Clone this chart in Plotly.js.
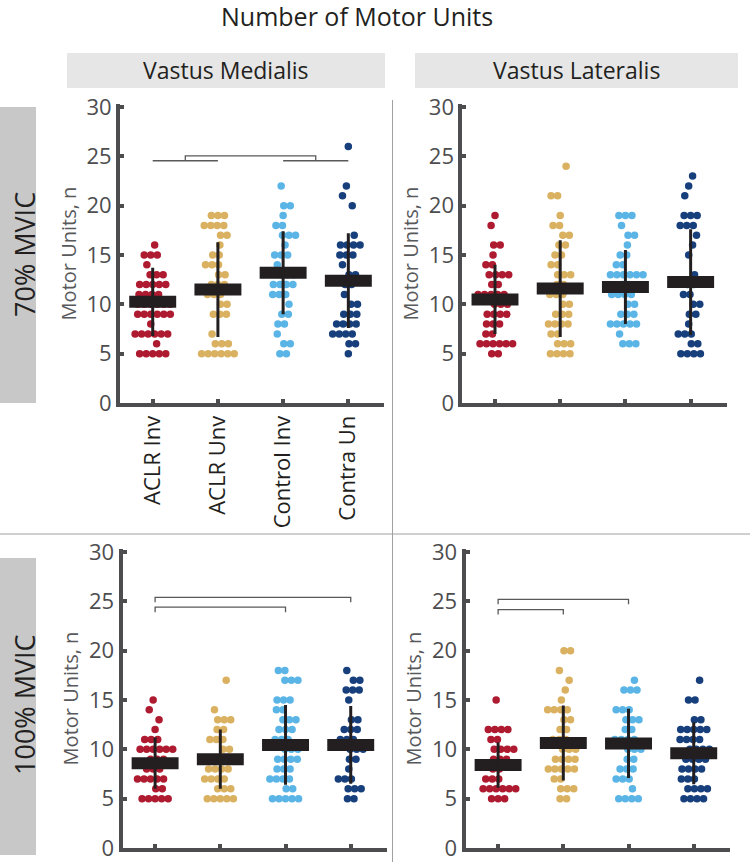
<!DOCTYPE html>
<html><head><meta charset="utf-8">
<script src="https://cdn.plot.ly/plotly-3.0.1.min.js"></script>
<style>html,body{margin:0;padding:0;background:#fff}#chart{width:750px;height:865px}</style>
</head><body><div id="chart"></div>
<script>
// ---------- DATA ----------
const groups = ['ACLR Inv', 'ACLR Unv', 'Control Inv', 'Contra Un'];

// Vastus Medialis, 70% MVIC
const vm70_aclrInv    = [16,15,15,15,14,13,13,13,12,12,12,12,12,11,11,11,11,10,10,10,10,10,10,9,9,9,9,9,9,8,7,7,7,7,7,7,6,5,5,5,5,5];
const vm70_aclrUnv    = [19,19,19,18,18,18,18,17,17,16,15,15,14,14,14,13,13,12,12,12,11,11,11,10,10,9,9,9,7,6,6,6,5,5,5,5,5,5];
const vm70_controlInv = [22,20,20,19,18,18,17,17,17,16,15,15,15,14,13,13,13,12,12,12,12,11,11,11,10,9,9,8,8,7,6,6,5,5];
const vm70_contraUn   = [26,22,21,20,17,16,16,16,16,15,15,15,14,13,13,12,12,11,10,10,9,9,9,8,8,8,8,7,7,7,7,6,6,5];
const vm70_mean = [10.25, 11.5, 13.2, 12.4];
const vm70_sd   = [3.45, 4.8, 4.2, 4.8];

// Vastus Lateralis, 70% MVIC
const vl70_aclrInv    = [19,18,16,16,15,14,14,13,13,13,13,12,12,11,11,11,11,11,10,10,10,9,9,9,9,8,8,8,7,7,6,6,6,6,6,6,5,5];
const vl70_aclrUnv    = [24,21,21,19,18,18,17,17,16,16,15,15,14,14,13,13,13,12,12,11,11,11,10,10,9,9,9,8,8,8,8,7,7,6,6,6,5,5,5,5];
const vl70_controlInv = [19,19,19,18,17,17,16,15,15,14,14,13,13,13,13,13,13,12,12,11,11,11,11,10,10,9,9,9,8,8,8,8,8,7,6,6,6];
const vl70_contraUn   = [23,22,21,19,19,19,18,18,18,17,16,15,13,12,12,11,11,10,10,9,9,8,7,7,7,6,6,5,5,5,5];
const vl70_mean = [10.5, 11.6, 11.75, 12.25];
const vl70_sd   = [3.5, 4.9, 3.75, 5.35];

// Vastus Medialis, 100% MVIC
const vm100_aclrInv    = [15,14,13,12,11,11,11,10,10,10,10,10,10,9,9,9,8,8,8,7,7,7,7,7,6,6,5,5,5,5,5];
const vm100_aclrUnv    = [17,14,13,13,13,12,12,11,11,11,10,10,9,9,9,8,8,8,8,7,7,7,7,6,6,6,5,5,5,5,5];
const vm100_controlInv = [18,18,17,17,17,15,15,15,14,14,13,13,13,12,12,12,11,11,11,10,10,10,9,9,9,9,8,8,8,7,7,7,7,6,6,5,5,5,5,5];
const vm100_contraUn   = [18,17,17,16,16,16,15,13,13,12,12,12,11,11,11,10,10,10,9,9,8,7,7,7,6,6,6,5,5];
const vm100_mean = [8.6, 9.0, 10.45, 10.45];
const vm100_sd   = [2.6, 3.0, 4.05, 3.95];

// Vastus Lateralis, 100% MVIC
const vl100_aclrInv    = [15,12,12,12,12,11,11,10,10,10,10,9,9,9,8,8,7,7,7,6,6,6,6,6,6,5,5,5];
const vl100_aclrUnv    = [20,20,18,17,16,15,14,14,14,14,13,13,12,12,11,11,11,10,10,10,9,9,9,9,8,8,8,8,8,7,7,6,6,6,5,5];
const vl100_controlInv = [17,16,16,16,14,14,14,13,13,13,12,12,11,11,11,11,10,10,10,9,9,8,8,8,7,7,7,6,5,5,5,5];
const vl100_contraUn   = [17,15,15,13,13,12,12,12,12,12,11,11,11,11,10,10,10,10,9,9,9,9,8,8,8,8,7,7,7,6,6,6,6,5,5,5,5];
const vl100_mean = [8.4, 10.65, 10.6, 9.6];
const vl100_sd   = [2.3, 3.8, 3.5, 3.15];

// significance brackets: [from group, to group, height]
const vm70_pairs   = [[1, 2, 24.55], [3, 4, 24.55]];
const vm70_groupBr = [[1.5, 3.5, 25.05]];
const vm100_brackets = [[1, 4, 25.4], [1, 3, 24.4]];
const vl100_brackets = [[1, 3, 25.2], [1, 2, 24.15]];

// ---------- STYLE ----------
const dotColors = ['#ae1a2f', '#d9b160', '#5ab5e6', '#173f7c'];
const W = 750, H = 865;
const axisCol = '#4d4d4f';
const FONT = 'Open Sans, sans-serif';

function swarm(vals, center) {
  const counts = {}; vals.forEach(v => counts[v] = (counts[v] || 0) + 1);
  const idx = {}; const xs = [];
  const step = 0.1;
  vals.forEach(v => {
    const n = counts[v];
    idx[v] = idx[v] === undefined ? 0 : idx[v] + 1;
    const half = (n - 1) / 2 * step;
    const lim = Math.max(0, 0.27 - half);
    let shift = (((v * 37) % 7) - 3) * 0.03;
    shift = Math.max(-lim, Math.min(lim, shift));
    xs.push(center + (idx[v] - (n - 1) / 2) * step + shift);
  });
  return xs;
}

const panels = [
  {n: '',  series: [vm70_aclrInv, vm70_aclrUnv, vm70_controlInv, vm70_contraUn], mean: vm70_mean, sd: vm70_sd,
   px: [120.1, 384.2], py: [104, 403], labels: true},
  {n: '2', series: [vl70_aclrInv, vl70_aclrUnv, vl70_controlInv, vl70_contraUn], mean: vl70_mean, sd: vl70_sd,
   px: [462.4, 726.5], py: [104, 403], labels: false},
  {n: '3', series: [vm100_aclrInv, vm100_aclrUnv, vm100_controlInv, vm100_contraUn], mean: vm100_mean, sd: vm100_sd,
   px: [122.5, 386.6], py: [549, 848], labels: false},
  {n: '4', series: [vl100_aclrInv, vl100_aclrUnv, vl100_controlInv, vl100_contraUn], mean: vl100_mean, sd: vl100_sd,
   px: [465.5, 729.6], py: [549, 848], labels: false}
];

const traces = [];
const layout = {
  width: W, height: H, margin: {l: 0, r: 0, t: 0, b: 0},
  paper_bgcolor: '#fff', plot_bgcolor: 'rgba(0,0,0,0)',
  showlegend: false, font: {family: FONT, color: '#231f20'},
  shapes: [], annotations: []
};

panels.forEach(p => {
  const xa = 'x' + p.n, ya = 'y' + p.n;
  p.series.forEach((vals, g) => {
    traces.push({type: 'scatter', mode: 'markers', x: swarm(vals, g + 1), y: vals,
      xaxis: xa, yaxis: ya, marker: {size: 7.5, color: dotColors[g]}, hoverinfo: 'y', cliponaxis: false});
  });
  // mean bars
  const mx = [], my = [];
  p.mean.forEach((m, g) => { mx.push(g + 1 - 0.36, g + 1 + 0.36, null); my.push(m, m, null); });
  traces.push({type: 'scatter', mode: 'lines', x: mx, y: my, xaxis: xa, yaxis: ya,
    line: {color: '#231f20', width: 12}, hoverinfo: 'skip'});
  // SD lines
  traces.push({type: 'scatter', mode: 'markers', x: groups.map((_, i) => i + 1), y: p.mean, xaxis: xa, yaxis: ya,
    marker: {size: 1, color: 'rgba(0,0,0,0)'},
    error_y: {type: 'data', array: p.sd, visible: true, thickness: 3, width: 0, color: '#231f20'}, hoverinfo: 'skip'});

  layout['xaxis' + p.n] = {
    domain: [p.px[0] / W, p.px[1] / W], range: [0.5, 4.55], anchor: ya,
    showline: true, linewidth: 4, linecolor: axisCol, ticks: 'inside', ticklen: 4, tickwidth: 4, tickcolor: axisCol,
    tickvals: [1, 2, 3, 4], ticktext: groups, showticklabels: p.labels, tickangle: -90,
    tickfont: {size: 22, color: '#231f20', family: FONT}, showgrid: false, zeroline: false, fixedrange: true
  };
  layout['yaxis' + p.n] = {
    domain: [1 - p.py[1] / H, 1 - p.py[0] / H], range: [0, 30.3], anchor: xa,
    showline: true, linewidth: 4, linecolor: axisCol, ticks: 'inside', ticklen: 4, tickwidth: 4, tickcolor: axisCol,
    tickvals: [0, 5, 10, 15, 20, 25, 30], tickfont: {size: 22, color: axisCol, family: FONT},
    showgrid: false, zeroline: false, fixedrange: true,
    title: {text: 'Motor Units, n', font: {size: 20, color: '#58595b', family: FONT}, standoff: 6}
  };
});

// brackets
const brCol = '#58595b';
function bracket(xa, ya, x0, x1, y, drop) {
  layout.shapes.push({type: 'path', xref: xa, yref: ya,
    path: `M ${x0},${y - drop} L ${x0},${y} L ${x1},${y} L ${x1},${y - drop}`,
    line: {color: brCol, width: 1.3}});
}
vm70_pairs.forEach(b => bracket('x', 'y', b[0], b[1], b[2], 0));
vm70_groupBr.forEach(b => bracket('x', 'y', b[0], b[1], b[2], 0.5));
vm100_brackets.forEach(b => bracket('x3', 'y3', b[0], b[1], b[2], 0.5));
vl100_brackets.forEach(b => bracket('x4', 'y4', b[0], b[1], b[2], 0.5));

// header and row boxes
function rect(x0, y0, x1, y1, fill) {
  layout.shapes.push({type: 'rect', xref: 'paper', yref: 'paper', x0: x0 / W, x1: x1 / W, y0: 1 - y1 / H, y1: 1 - y0 / H,
    fillcolor: fill, line: {width: 0}, layer: 'below'});
}
function line(x0, y0, x1, y1) {
  layout.shapes.push({type: 'line', xref: 'paper', yref: 'paper', x0: x0 / W, x1: x1 / W, y0: 1 - y0 / H, y1: 1 - y1 / H,
    line: {color: '#a0a0a0', width: 1}, layer: 'below'});
}
rect(67, 53, 385, 88, '#e6e6e6');
rect(415, 53, 738, 88, '#e6e6e6');
rect(0, 107, 36, 403, '#c8c8c9');
rect(0, 558, 36, 855, '#c8c8c9');
line(0, 534, 750, 534);
line(392.5, 100, 392.5, 862);

function ann(text, x, y, size, angle) {
  layout.annotations.push({text, x: x / W, y: 1 - y / H, xref: 'paper', yref: 'paper', showarrow: false,
    xanchor: 'center', yanchor: 'middle', textangle: angle || 0,
    font: {size, color: '#231f20', family: FONT}});
}
ann('Number of Motor Units', 357, 16, 25);
ann('Vastus Medialis', 226, 70.5, 23);
ann('Vastus Lateralis', 576.5, 70.5, 23);
ann('70% MVIC', 24, 255, 27, -90);
ann('100% MVIC', 24, 705, 27, -90);

Plotly.newPlot('chart', traces, layout, {displayModeBar: false, staticPlot: true});
</script>
</body></html>
